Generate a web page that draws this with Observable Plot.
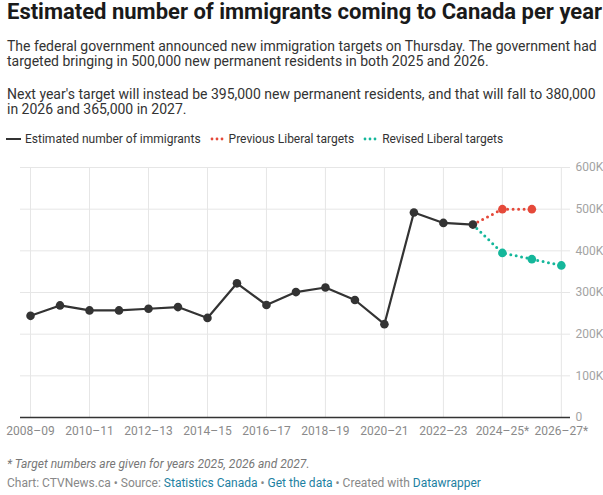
<!DOCTYPE html>
<html>
<head>
<meta charset="utf-8">
<script src="https://cdn.jsdelivr.net/npm/d3@7"></script>
<script src="https://cdn.jsdelivr.net/npm/@observablehq/plot@0.6"></script>
<style>
  html, body { margin: 0; padding: 0; background: #fff; }
  body { width: 603px; height: 495px; position: relative; font-family: Roboto, "Noto Sans", sans-serif; overflow: hidden; }
  .abs { position: absolute; left: 7px; }
  #title { top: 0px; font-size: 22px; font-weight: 700; color: #1a1a1a; line-height: 24px; white-space: nowrap; }
  #desc { top: 39px; font-size: 14px; color: #333; line-height: 15px; width: 592px; }
  #desc p { margin: 0 0 18px 0; }
  #legend { position: absolute; top: 132px; left: 6px; font-size: 12px; color: #333; display: flex; align-items: center; white-space: nowrap; }
  #legend .item { display: flex; align-items: center; margin-right: 9px; }
  #legend svg { margin-right: 4px; }
  #chart { position: absolute; top: 151px; left: 0; }
  #note { top: 457px; font-size: 12px; font-style: italic; color: #777; }
  #credit { top: 476px; font-size: 12px; color: #888; white-space: nowrap; }
  #credit a { color: #1d81a2; text-decoration: none; }
</style>
</head>
<body>
<div id="title" class="abs">Estimated number of immigrants coming to Canada per year</div>
<div id="desc" class="abs">
  <p>The federal government announced new immigration targets on Thursday. The government had targeted bringing in 500,000 new permanent residents in both 2025 and 2026.</p>
  <p>Next year's target will instead be 395,000 new permanent residents, and that will fall to 380,000 in 2026 and 365,000 in 2027.</p>
</div>
<div id="legend"></div>
<div id="chart"></div>
<div id="note" class="abs">* Target numbers are given for years 2025, 2026 and 2027.</div>
<div id="credit" class="abs">Chart: CTVNews.ca • Source: <a>Statistics Canada</a> • <a>Get the data</a> • Created with <a>Datawrapper</a></div>
<script>
// ---- data ----
const periods = ["2008–09","2009–10","2010–11","2011–12","2012–13","2013–14","2014–15","2015–16","2016–17","2017–18","2018–19","2019–20","2020–21","2021–22","2022–23","2023–24","2024–25*","2025–26*","2026–27*"];
const estimated = [244000, 269000, 257000, 257000, 261000, 265000, 239000, 322000, 270000, 301000, 312000, 282000, 224000, 492000, 467000, 463000];
const previousTargets = [500000, 500000];           // 2024–25*, 2025–26*
const revisedTargets = [395000, 380000, 365000];    // 2024–25*, 2025–26*, 2026–27*
const xTickLabels = ["2008–09","2010–11","2012–13","2014–15","2016–17","2018–19","2020–21","2022–23","2024–25*","2026–27*"];
const yTicks = [0, 100000, 200000, 300000, 400000, 500000, 600000];
const seriesNames = ["Estimated number of immigrants", "Previous Liberal targets", "Revised Liberal targets"];
const colors = ["#333333", "#e5493a", "#15b79b"];

// ---- build tables ----
const nEst = estimated.length;
const estRows = estimated.map((v, i) => ({i, v}));
const lastEst = estRows[nEst - 1];
const prevRows = previousTargets.map((v, k) => ({i: nEst + k, v}));
const revRows = revisedTargets.map((v, k) => ({i: nEst + k, v}));
const xTickIdx = xTickLabels.map(l => periods.indexOf(l));

// ---- legend ----
const legend = document.getElementById("legend");
seriesNames.forEach((name, i) => {
  const item = document.createElement("div");
  item.className = "item";
  const sw = i === 0
    ? `<svg width="15" height="10"><line x1="0" x2="15" y1="5" y2="5" stroke="${colors[0]}" stroke-width="2"/></svg>`
    : `<svg width="15" height="10">${[2,7,12].map(cx => `<circle cx="${cx}" cy="5" r="1.4" fill="${colors[i]}"/>`).join("")}</svg>`;
  item.innerHTML = sw + `<span>${name}</span>`;
  legend.appendChild(item);
});

// ---- chart ----
const plot = Plot.plot({
  width: 603,
  height: 292,
  marginLeft: 20,
  marginRight: 33,
  marginTop: 16,
  marginBottom: 26,
  style: {fontFamily: "Roboto, sans-serif", fontSize: "12px", background: "#fff"},
  x: {type: "linear", domain: [-0.34, periods.length - 1 + 0.31], label: null},
  y: {domain: [0, 600000], label: null},
  marks: [
    Plot.gridX(xTickIdx, {stroke: "#e6e6e6", strokeOpacity: 1}),
    Plot.gridY(yTicks.filter(d => d > 0), {stroke: "#e6e6e6", strokeOpacity: 1}),
    Plot.axisX(xTickIdx, {tickSize: 0, tickPadding: 9, fill: "#8a8a8a", fontSize: 12, label: null,
      tickFormat: i => periods[i]}),
    Plot.axisY(yTicks, {anchor: "right", tickSize: 0, tickPadding: 5, fill: "#a3a3a3", fontSize: 12, label: null,
      tickFormat: d => d === 0 ? "0" : (d / 1000) + "K"}),
    Plot.ruleY([0], {stroke: "#333", strokeWidth: 1.5}),
    Plot.line([lastEst, ...prevRows], {x: "i", y: "v", stroke: colors[1], strokeWidth: 3, strokeDasharray: "0 5.5", strokeLinecap: "round"}),
    Plot.line([lastEst, ...revRows], {x: "i", y: "v", stroke: colors[2], strokeWidth: 3, strokeDasharray: "0 5.5", strokeLinecap: "round"}),
    Plot.line(estRows, {x: "i", y: "v", stroke: colors[0], strokeWidth: 2.2}),
    Plot.dot(prevRows, {x: "i", y: "v", r: 4.3, fill: colors[1]}),
    Plot.dot(revRows, {x: "i", y: "v", r: 4.3, fill: colors[2]}),
    Plot.dot(estRows, {x: "i", y: "v", r: 4.3, fill: colors[0]})
  ]
});
document.getElementById("chart").appendChild(plot);
</script>
</body>
</html>
